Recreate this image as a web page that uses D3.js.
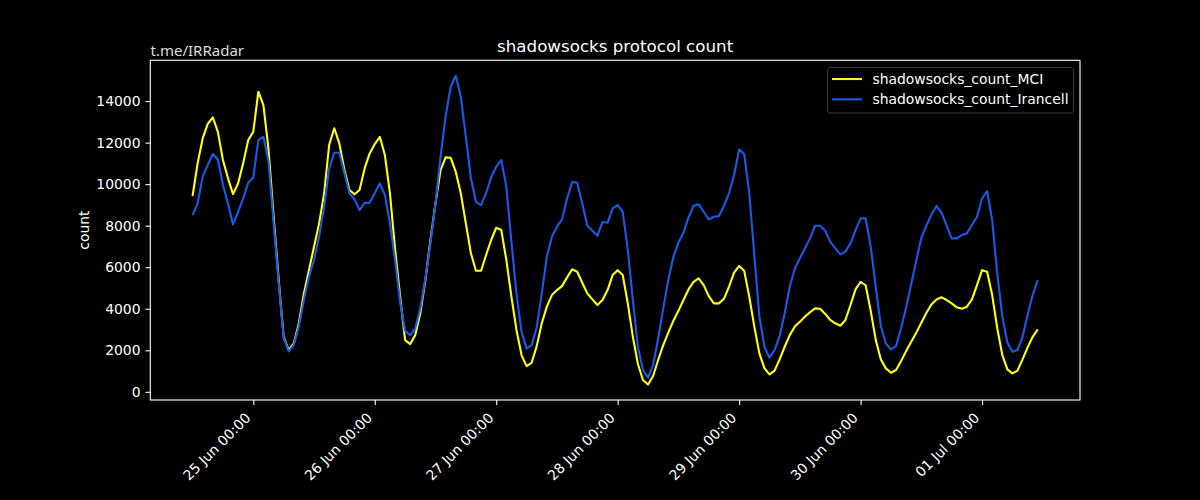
<!DOCTYPE html>
<html>
  <head>
    <title>shadowsocks protocol count</title>
    <script src="https://d3js.org/d3.v7.min.js"></script>
    <style>
      body { margin: 0; background: #000; }
      svg { display: block; }
    </style>
  </head>
  <body>
    <div id="chart"></div>
    <script>
      // hourly samples, 24 Jun 12:00 -> 01 Jul 11:00
      var startTime = new Date(2023, 5, 24, 12, 0);
      var seriesNames = ["shadowsocks_count_MCI", "shadowsocks_count_Irancell"];
      var seriesColors = ["#ffff14", "#1a5ae8"];

      var mciCounts = [
        9430, 11000, 12200, 12900, 13220, 12520, 11160, 10280, 9520, 10040, 11000, 12120,
        12520, 14450, 13800, 11700, 8500, 5450, 2650, 2010, 2330, 3300, 4740, 5860,
        6990, 8100, 9550, 11900, 12690, 11960, 10680, 9720, 9510, 9720, 10760, 11480,
        11930, 12280, 11400, 9560, 6920, 4610, 2490, 2300, 2730, 3780, 5380, 7310,
        9070, 10680, 11290, 11270, 10600, 9560, 8110, 6670, 5830, 5830, 6590, 7310,
        7900, 7790, 6350, 4580, 2980, 1770, 1240, 1400, 2200, 3300, 4100, 4660,
        4900, 5090, 5510, 5900, 5780, 5250, 4740, 4450, 4180, 4420, 4900, 5620,
        5860, 5620, 4260, 2650, 1340, 570, 350, 760, 1530, 2250, 2850, 3420,
        3900, 4420, 4930, 5300, 5460, 5140, 4610, 4260, 4260, 4480, 5060, 5740,
        6060, 5830, 4580, 3140, 1850, 1130, 840, 1020, 1560, 2170, 2730, 3140,
        3380, 3620, 3830, 4020, 4000, 3750, 3460, 3300, 3180, 3460, 4180, 4930,
        5300, 5130, 3900, 2490, 1560, 1130, 920, 1050, 1480, 1960, 2410, 2850,
        3330, 3810, 4210, 4450, 4550, 4420, 4260, 4070, 4000, 4100, 4450, 5140,
        5860, 5780, 4660, 3060, 1770, 1080, 890, 1020, 1560, 2140, 2650, 3010
      ];

      var irancellCounts = [
        8510, 9070, 10360, 10920, 11450, 11190, 9960, 9070, 8060, 8670, 9310, 10070,
        10330, 12120, 12280, 11100, 8200, 5300, 2600, 1950, 2250, 3140, 4420, 5540,
        6350, 7470, 8910, 10760, 11510, 11510, 10520, 9560, 9270, 8750, 9100, 9100,
        9560, 10040, 9480, 8110, 6350, 4340, 2940, 2720, 3060, 4020, 5460, 7150,
        9070, 11320, 13250, 14690, 15220, 14210, 12280, 10280, 9150, 8990, 9560, 10330,
        10840, 11160, 9880, 7230, 4740, 2890, 2080, 2250, 3100, 4740, 6500, 7470,
        7950, 8300, 9310, 10100, 10070, 9070, 8000, 7760, 7520, 8180, 8140, 8830,
        8990, 8670, 6830, 4420, 2140, 1050, 680, 1290, 2570, 4020, 5380, 6500,
        7180, 7660, 8400, 8960, 9030, 8670, 8300, 8430, 8460, 8950, 9560, 10440,
        11670, 11450, 9560, 6590, 3620, 2170, 1640, 2010, 2690, 3780, 5060, 5940,
        6430, 6910, 7390, 8000, 8000, 7760, 7230, 6910, 6620, 6750, 7150, 7790,
        8350, 8350, 6990, 5030, 3170, 2330, 2040, 2200, 3060, 4070, 5190, 6310,
        7420, 8000, 8540, 8950, 8620, 8000, 7390, 7390, 7550, 7630, 8030, 8430,
        9310, 9670, 8270, 5700, 3620, 2370, 1930, 2010, 2650, 3700, 4660, 5380
      ];

      var yTicks = [0, 2000, 4000, 6000, 8000, 10000, 12000, 14000];

      var times = mciCounts.map(function (d, i) { return d3.timeHour.offset(startTime, i); });
      var xTicks = d3.timeDay.range(d3.timeDay.ceil(times[0]), times[times.length - 1]);

      var series = [mciCounts, irancellCounts].map(function (vals, k) {
        return {
          name: seriesNames[k],
          color: seriesColors[k],
          values: vals.map(function (v, i) { return { t: times[i], v: v }; })
        };
      });

      var W = 1200, H = 500;
      var font = "'DejaVu Sans', sans-serif";
      var margin = { top: 60.3, right: 120, bottom: 100, left: 150.3 };
      var width = W - margin.left - margin.right;
      var height = H - margin.top - margin.bottom;

      var svg = d3.select("#chart").append("svg")
        .attr("width", W)
        .attr("height", H)
        .style("background", "#000")
        .attr("font-family", font);

      var g = svg.append("g")
        .attr("transform", "translate(" + margin.left + "," + margin.top + ")");

      // matplotlib-like 5% padding
      var t0 = +times[0], t1 = +times[times.length - 1];
      var tp = (t1 - t0) * 0.05;
      var x = d3.scaleTime().domain([new Date(t0 - tp), new Date(t1 + tp)]).range([0, width]);

      var allVals = mciCounts.concat(irancellCounts);
      var vMin = d3.min(allVals), vMax = d3.max(allVals);
      var vp = (vMax - vMin) * 0.05;
      var y = d3.scaleLinear().domain([vMin - vp, vMax + vp]).range([height, 0]);

      // y axis
      var yAxis = g.append("g")
        .call(d3.axisLeft(y).tickValues(yTicks).tickSize(4.9).tickPadding(4.9).tickFormat(d3.format("d")))
        .attr("font-family", font)
        .attr("font-size", "13.9px");
      yAxis.select(".domain").remove();
      yAxis.selectAll("line").attr("stroke", "#fff").attr("stroke-width", 1.1);
      yAxis.selectAll("text").attr("fill", "#fff");

      // x axis
      var xAxis = g.append("g")
        .attr("transform", "translate(0," + height + ")")
        .call(d3.axisBottom(x).tickValues(xTicks).tickSize(4.9).tickFormat(d3.timeFormat("%d %b %H:%M")))
        .attr("font-family", font)
        .attr("font-size", "13.9px");
      xAxis.select(".domain").remove();
      xAxis.selectAll("line").attr("stroke", "#fff").attr("stroke-width", 1.1);
      xAxis.selectAll("text")
        .attr("fill", "#fff")
        .attr("text-anchor", "end")
        .attr("dy", null)
        .attr("y", null)
        .attr("transform", "translate(-2.3,18.8) rotate(-45)");

      // lines
      var line = d3.line()
        .x(function (d) { return x(d.t); })
        .y(function (d) { return y(d.v); });

      g.selectAll("path.series")
        .data(series)
        .enter()
        .append("path")
        .attr("class", "series")
        .attr("d", function (d) { return line(d.values); })
        .attr("fill", "none")
        .attr("stroke", function (d) { return d.color; })
        .attr("stroke-width", 2.1)
        .attr("stroke-linejoin", "round");

      // frame
      g.append("rect")
        .attr("width", width)
        .attr("height", height)
        .attr("fill", "none")
        .attr("stroke", "#fff")
        .attr("stroke-width", 1.1);

      // title & labels
      svg.append("text")
        .text("shadowsocks protocol count")
        .attr("x", margin.left + width / 2)
        .attr("y", 52)
        .attr("text-anchor", "middle")
        .attr("fill", "#fff")
        .attr("font-size", "16.7px");

      svg.append("text")
        .text("t.me/IRRadar")
        .attr("x", 150.5)
        .attr("y", 56)
        .attr("fill", "#dddddd")
        .attr("font-family", "'Noto Sans', sans-serif")
        .attr("font-size", "15px");

      svg.append("text")
        .text("count")
        .attr("transform", "translate(89," + (margin.top + height / 2) + ") rotate(-90)")
        .attr("text-anchor", "middle")
        .attr("fill", "#fff")
        .attr("font-size", "13.9px");

      // legend
      var legend = svg.append("g").attr("transform", "translate(827.5,67.5)");
      legend.append("rect")
        .attr("width", 246)
        .attr("height", 45.5)
        .attr("rx", 3)
        .attr("fill", "#000")
        .attr("stroke", "#3c3c3c")
        .attr("stroke-width", 1);

      var items = legend.selectAll("g.item")
        .data(series)
        .enter()
        .append("g")
        .attr("class", "item")
        .attr("transform", function (d, i) { return "translate(0," + (11.5 + i * 20.3) + ")"; });

      items.append("line")
        .attr("x1", 4.5).attr("x2", 34.5)
        .attr("stroke", function (d) { return d.color; })
        .attr("stroke-width", 2.1);

      items.append("text")
        .text(function (d) { return d.name; })
        .attr("x", 45)
        .attr("dy", "0.35em")
        .attr("fill", "#fff")
        .attr("font-size", "13.9px");
    </script>
  </body>
</html>
